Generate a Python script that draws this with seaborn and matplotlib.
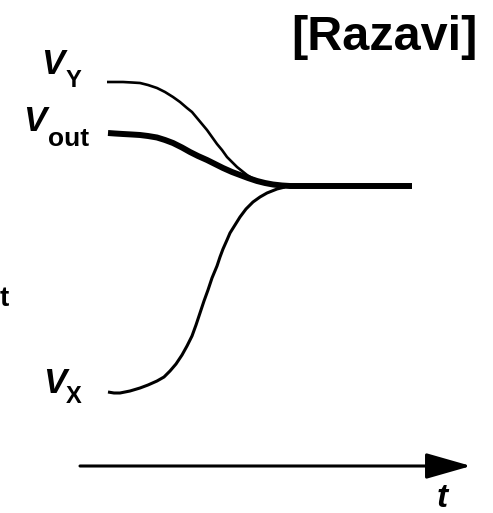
import numpy as np
import pandas as pd
import matplotlib
matplotlib.use('Agg')
import matplotlib.pyplot as plt
import seaborn as sns

sns.set_style('white')

# curves (pixel units, y grows downward)
vy_x = [107, 115, 123, 132, 140, 148, 157, 165, 173, 180, 187, 192, 197, 202, 207, 212,
        217, 222, 227, 232, 237, 242, 247, 252, 257, 263, 270, 277, 283]
vy_y = [82, 82, 82, 82.5, 83, 85, 88, 92, 97, 102, 108, 112, 118, 124, 130, 137,
        144, 150, 157, 162, 167, 171, 175, 178, 180, 182, 183.5, 184.5, 185]

vout_x = [108, 115, 123, 132, 140, 148, 157, 165, 173, 182, 190, 198, 207, 215, 223, 232,
          240, 248, 257, 265, 273, 282, 290, 412]
vout_y = [133, 133.5, 134, 134.5, 135, 136, 137.5, 140, 143, 147.5, 152, 156, 160, 164, 168, 172,
          175, 178, 181, 183, 184.5, 185.5, 186, 186]

vx_x = [108, 114, 120, 130, 140, 148, 157, 164, 170, 176, 182, 187, 192, 196, 200, 204,
        208, 212, 217, 220, 223, 227, 230, 235, 240, 246, 253, 260, 267, 272, 277, 285]
vx_y = [392, 393, 393, 391, 388, 385, 381, 377, 371, 364, 355, 346, 336, 325, 313, 301,
        290, 278, 266, 257, 249, 240, 233, 225, 217, 209, 202, 197, 193, 191, 189, 187]

curves = {
    'VY': (vy_x, vy_y, 1.9),
    'Vout': (vout_x, vout_y, 4.3),
    'VX': (vx_x, vx_y, 2.2),
}

fig = plt.figure(figsize=(4.93, 5.13), dpi=100)
ax = fig.add_axes([0, 0, 1, 1])

for name, (xs, ys, lw) in curves.items():
    df = pd.DataFrame({'x': xs, 'y': ys})
    sns.lineplot(data=df, x='x', y='y', sort=False, color='black',
                 linewidth=lw, ax=ax, solid_capstyle='butt', solid_joinstyle='round')

# time axis arrow
ax.annotate('', xy=(471, 466), xytext=(80, 466),
            arrowprops=dict(arrowstyle='-|>,head_length=28,head_width=8',
                            mutation_scale=1, lw=2.2, color='black',
                            shrinkA=0, shrinkB=0))

lab = dict(color='black', fontweight='bold', family='Liberation Sans')
ax.text(41, 74, 'V', fontsize=25, style='italic', ha='left', va='baseline', **lab)
ax.text(66, 87, 'Y', fontsize=17, ha='left', va='baseline', **lab)
ax.text(23, 131, 'V', fontsize=25, style='italic', ha='left', va='baseline', **lab)
ax.text(48, 146, 'out', fontsize=19, ha='left', va='baseline', **lab)
ax.text(43, 393, 'V', fontsize=25, style='italic', ha='left', va='baseline', **lab)
ax.text(66, 403, 'X', fontsize=17, ha='left', va='baseline', **lab)
ax.text(442, 507, 't', fontsize=24, style='italic', ha='center', va='baseline', **lab)
ax.text(0, 306, 't', fontsize=20, ha='left', va='baseline', **lab)

ax.text(478, 50, '[Razavi]', fontsize=35, fontweight='bold', family='Liberation Sans',
        ha='right', va='baseline', color='black')

ax.set_xlim(0, 493)
ax.set_ylim(513, 0)
ax.axis('off')

fig.savefig('out.png', dpi=100)
